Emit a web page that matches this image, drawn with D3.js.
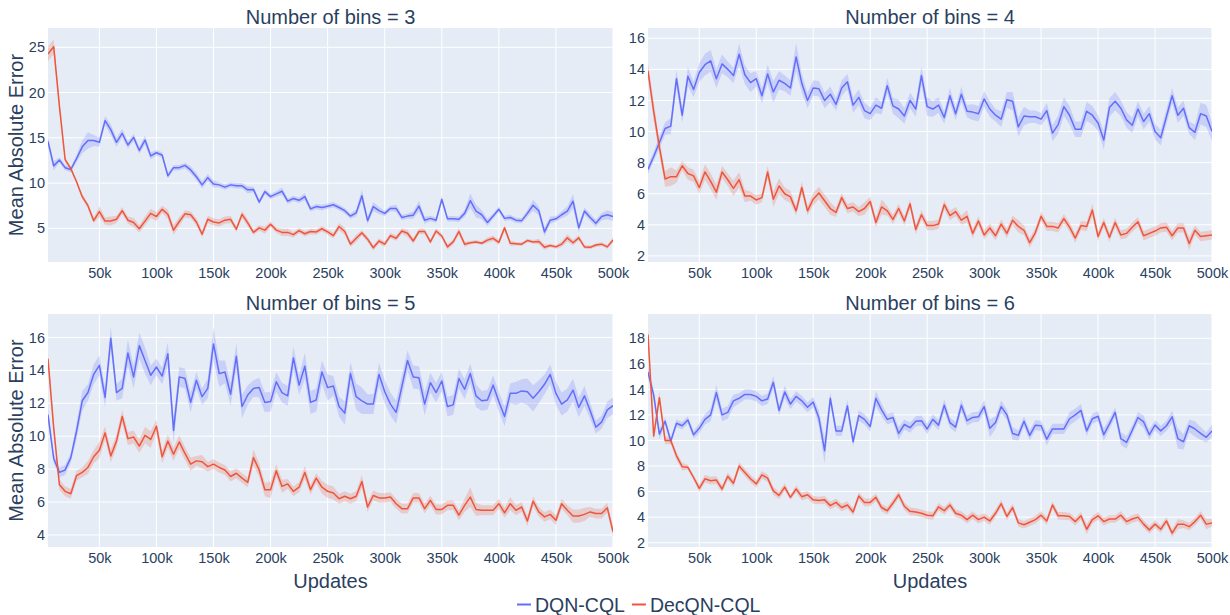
<!DOCTYPE html>
<html>
<head>
<meta charset="utf-8">
<script src="https://cdn.jsdelivr.net/npm/d3@7"></script>
<style>
  html, body { margin: 0; padding: 0; background: #ffffff; }
  svg { display: block; font-family: "Liberation Sans", Arial, sans-serif; }
</style>
</head>
<body>
<svg id="chart" width="1230" height="615"></svg>
<script>
// Training updates at which the error was measured (every 5k up to 500k)
const updates = d3.range(5000, 500001, 5000);
const xTicks = [50000, 100000, 150000, 200000, 250000, 300000, 350000, 400000, 450000, 500000];

const seriesNames = ["DQN-CQL", "DecQN-CQL"];
const binCounts = [3, 4, 5, 6];

// ---- Number of bins = 3 ----
const dqn3 = [14.6,11.9,12.55,11.7,11.5,12.7,14.0,14.7,14.7,14.5,
  16.9,15.9,14.5,15.5,14.2,15.05,13.6,14.75,13.0,13.35,
  13.1,10.8,11.7,11.7,11.95,11.45,10.7,9.8,10.6,9.9,
  9.8,9.55,9.8,9.7,9.7,9.25,9.3,7.9,9.05,8.5,
  8.8,9.1,8.0,8.3,8.1,8.5,7.15,7.4,7.3,7.45,
  7.6,7.3,6.95,6.35,6.7,8.6,5.85,7.4,6.95,6.65,
  7.2,7.2,6.2,6.35,6.45,7.45,5.9,6.1,5.9,8.2,
  6.05,6.05,6.0,6.65,8.05,6.9,6.5,5.65,6.35,7.1,
  6.1,6.2,5.9,5.85,6.65,7.55,6.95,4.6,5.9,6.05,
  6.5,6.9,8.0,5.05,6.9,6.2,5.55,6.3,6.5,6.3];
const dqn3Spread = [0.5,0.5,0.3,0.3,0.3,0.4,0.7,0.9,0.6,0.5,
  0.5,0.6,0.5,0.5,0.4,0.4,0.4,0.5,0.4,0.3,
  0.3,0.3,0.3,0.3,0.3,0.4,0.4,0.4,0.4,0.4,
  0.3,0.3,0.3,0.3,0.3,0.4,0.3,0.3,0.3,0.3,
  0.3,0.4,0.3,0.3,0.3,0.4,0.3,0.3,0.3,0.3,
  0.3,0.3,0.3,0.3,0.4,0.7,0.4,0.5,0.4,0.3,
  0.3,0.4,0.3,0.3,0.4,0.6,0.4,0.3,0.3,0.4,
  0.3,0.3,0.3,0.4,0.8,0.7,0.5,0.4,0.3,0.3,
  0.3,0.3,0.3,0.3,0.4,0.6,0.5,0.5,0.4,0.3,
  0.4,0.5,0.8,0.5,0.4,0.4,0.4,0.4,0.5,0.5];
const decqn3 = [24.26,25.07,18.5,12.6,11.6,10.15,8.5,7.5,5.85,6.85,
  5.8,5.8,6.0,6.95,5.9,5.65,4.95,5.8,6.65,6.3,
  7.1,6.55,4.8,5.75,6.6,6.5,5.7,4.35,6.0,5.7,
  5.6,5.9,6.0,4.9,6.55,5.6,4.55,5.05,4.8,5.45,
  4.8,4.55,4.55,4.3,4.75,4.4,4.65,4.6,4.95,4.6,
  4.2,5.2,4.65,3.25,3.9,4.5,3.8,2.85,3.6,3.25,
  4.2,3.9,4.7,4.45,3.6,4.65,4.65,3.5,4.7,4.15,
  2.95,3.5,4.65,3.25,3.4,3.5,3.35,3.7,3.9,3.45,
  5.05,3.35,3.3,3.25,3.65,3.5,3.55,2.9,3.1,2.95,
  3.25,3.95,3.4,3.95,2.95,2.9,3.15,3.25,2.95,3.7];
const decqn3Spread = [0.8,0.8,0.5,0.3,0.2,0.2,0.3,0.3,0.3,0.6,
  0.4,0.5,0.4,0.4,0.4,0.5,0.4,0.5,0.5,0.5,
  0.4,0.5,0.5,0.5,0.4,0.4,0.4,0.4,0.4,0.4,
  0.4,0.4,0.4,0.3,0.4,0.4,0.3,0.3,0.4,0.3,
  0.3,0.4,0.4,0.3,0.3,0.3,0.3,0.3,0.3,0.3,
  0.3,0.4,0.4,0.3,0.4,0.3,0.3,0.3,0.3,0.3,
  0.3,0.3,0.3,0.4,0.3,0.3,0.3,0.3,0.3,0.3,
  0.3,0.3,0.4,0.3,0.2,0.2,0.2,0.3,0.3,0.3,
  0.3,0.3,0.2,0.2,0.2,0.2,0.3,0.3,0.2,0.2,
  0.3,0.4,0.3,0.3,0.2,0.2,0.2,0.2,0.2,0.3];

// ---- Number of bins = 4 ----
const dqn4 = [7.57,8.4,9.3,10.2,10.35,13.4,11.05,13.55,12.7,13.8,
  14.3,14.55,13.4,14.35,14.0,13.6,14.97,13.65,13.15,13.4,
  12.3,13.7,12.55,13.3,13.1,12.8,14.8,13.1,12.0,12.8,
  12.75,12.0,12.4,11.75,12.8,13.2,11.7,12.2,11.35,11.15,
  11.7,11.5,12.95,11.65,11.45,11.0,12.0,11.45,13.6,11.6,
  11.45,11.7,10.9,12.3,11.15,12.4,11.3,11.25,11.15,12.1,
  11.45,11.05,10.8,12.05,11.95,10.3,11.0,10.95,10.95,10.8,
  11.35,9.9,10.45,11.6,11.05,10.15,10.15,11.3,11.05,10.55,
  9.45,11.55,11.95,11.5,10.75,10.4,11.45,10.65,11.15,10.0,
  9.6,10.95,12.3,11.05,11.5,10.25,9.95,11.15,11.0,10.0];
const dqn4Spread = [0.3,0.3,0.4,0.4,0.5,0.6,0.5,0.6,0.5,0.6,
  0.7,0.7,0.6,0.6,0.5,0.5,0.7,0.6,0.6,0.5,
  0.5,0.6,0.7,0.6,0.5,0.5,0.9,0.6,0.5,0.5,
  0.5,0.5,0.5,0.4,0.5,0.5,0.5,0.5,0.5,0.4,
  0.5,0.4,0.5,0.5,0.6,0.5,0.5,0.5,0.6,0.6,
  0.5,0.5,0.4,0.5,0.4,0.5,0.4,0.5,0.5,0.5,
  0.5,0.4,0.5,0.5,0.6,0.6,0.6,0.4,0.4,0.4,
  0.5,0.5,0.6,0.6,0.6,0.5,0.5,0.6,0.6,0.5,
  0.6,0.6,0.6,0.5,0.5,0.5,0.5,0.5,0.5,0.5,
  0.5,0.5,0.5,0.5,0.5,0.4,0.5,0.7,0.7,0.6];
const decqn4 = [13.9,11.3,9.0,6.95,7.1,7.1,7.8,7.3,7.15,6.4,
  7.4,6.8,6.1,7.4,6.9,6.35,6.9,5.85,5.85,5.6,
  5.75,7.4,5.65,6.5,6.0,5.8,4.9,6.4,4.9,5.65,
  6.05,5.55,5.05,4.8,5.75,5.05,5.15,4.85,5.05,5.5,
  4.15,5.15,4.9,4.35,5.05,4.25,5.35,3.7,4.65,3.95,
  3.95,4.05,5.3,4.6,4.85,4.3,4.55,3.45,4.25,3.35,
  3.8,3.3,4.05,3.45,4.3,3.9,3.65,2.85,3.5,4.55,
  3.9,3.9,3.8,4.4,3.85,3.15,3.95,3.9,4.95,3.25,
  4.15,3.2,4.15,3.35,3.45,3.85,4.2,3.3,3.45,3.6,
  3.8,3.85,3.3,3.8,3.8,2.8,3.65,3.25,3.3,3.35];
const decqn4Spread = [0.5,0.6,0.5,0.5,0.6,0.4,0.3,0.4,0.4,0.4,
  0.5,0.5,0.5,0.4,0.4,0.5,0.5,0.4,0.3,0.3,
  0.3,0.4,0.5,0.5,0.4,0.4,0.3,0.4,0.3,0.4,
  0.4,0.4,0.4,0.3,0.3,0.3,0.3,0.3,0.4,0.3,
  0.3,0.5,0.3,0.3,0.3,0.3,0.3,0.3,0.3,0.3,
  0.3,0.3,0.3,0.3,0.3,0.3,0.4,0.3,0.3,0.3,
  0.3,0.3,0.3,0.3,0.3,0.4,0.3,0.3,0.3,0.3,
  0.3,0.3,0.3,0.3,0.3,0.3,0.3,0.3,0.4,0.3,
  0.3,0.3,0.3,0.3,0.3,0.3,0.3,0.3,0.3,0.3,
  0.3,0.3,0.3,0.3,0.3,0.4,0.3,0.3,0.3,0.3];

// ---- Number of bins = 5 ----
const dqn5 = [11.3,8.65,7.8,7.95,8.7,10.3,12.15,12.65,13.75,14.3,
  12.35,15.95,12.65,12.9,15.05,13.6,15.5,14.6,13.7,14.2,
  13.65,15.0,10.35,13.6,13.5,12.05,13.4,12.4,12.9,15.6,
  13.8,13.9,12.55,14.85,11.8,12.5,12.9,12.95,12.05,12.1,
  13.3,12.65,12.45,14.75,13.1,14.25,12.05,12.2,13.9,12.95,
  13.05,11.8,11.4,13.8,12.4,12.15,11.95,11.95,13.75,12.7,
  11.95,11.45,13.0,14.6,13.6,13.55,11.95,13.25,12.65,13.35,
  11.8,11.9,13.5,12.85,13.8,12.45,12.15,12.2,13.1,12.1,
  11.2,12.6,12.6,12.75,12.7,12.3,12.7,13.15,13.75,12.6,
  11.95,12.2,12.8,11.75,12.45,11.55,10.55,10.85,11.6,11.85];
const dqn5Spread = [0.4,0.3,0.3,0.3,0.3,0.5,0.6,0.5,0.6,0.6,
  0.6,0.7,0.5,0.6,0.8,0.7,0.8,0.8,0.6,0.5,
  0.5,0.7,0.8,0.6,0.6,0.6,0.5,0.5,0.6,1.0,
  0.8,0.7,0.7,0.8,0.7,0.6,0.5,0.6,0.6,0.6,
  0.6,0.6,0.6,0.7,0.6,0.8,0.7,0.7,0.7,0.8,
  0.6,0.6,0.7,0.7,0.8,0.8,0.6,0.6,0.7,0.7,
  0.7,0.7,0.7,0.6,0.7,0.7,0.7,0.6,0.6,0.6,
  0.6,0.6,0.6,0.6,0.6,0.7,0.6,0.6,0.6,0.6,
  0.6,0.6,0.7,0.7,0.8,0.8,0.7,0.6,0.6,0.7,
  0.7,0.7,0.7,0.6,0.6,0.5,0.4,0.4,0.5,0.5];
const decqn5 = [14.7,10.5,7.05,6.65,6.5,7.6,7.8,8.1,8.75,9.15,
  10.2,8.8,9.7,11.2,9.85,9.95,9.4,10.05,9.8,10.6,
  8.75,9.7,8.9,9.65,8.95,8.3,8.5,8.45,8.15,8.3,
  8.1,7.95,7.55,7.75,7.45,7.2,8.7,7.95,6.75,6.75,
  7.9,6.95,7.1,6.65,6.9,7.8,6.75,7.45,6.9,6.65,
  6.55,6.2,6.35,6.2,6.35,7.25,5.7,6.4,6.25,6.25,
  6.3,5.9,5.6,5.6,6.25,6.25,5.6,6.1,5.55,5.55,
  5.8,5.8,5.2,5.8,6.3,5.55,5.5,5.5,5.5,5.9,
  5.35,5.9,5.5,5.7,4.85,6.05,5.4,5.1,5.25,4.9,
  5.9,5.5,5.15,5.15,5.25,5.4,5.3,5.3,5.65,4.2];
const decqn5Spread = [0.3,0.4,0.3,0.3,0.3,0.3,0.3,0.4,0.4,0.5,
  0.4,0.4,0.4,0.4,0.4,0.4,0.4,0.5,0.5,0.4,
  0.4,0.4,0.4,0.4,0.4,0.4,0.3,0.4,0.3,0.3,
  0.3,0.3,0.3,0.3,0.3,0.3,0.5,0.4,0.4,0.5,
  0.4,0.4,0.3,0.3,0.3,0.4,0.3,0.3,0.4,0.4,
  0.4,0.3,0.3,0.3,0.3,0.4,0.3,0.3,0.3,0.3,
  0.3,0.3,0.3,0.3,0.3,0.3,0.3,0.3,0.3,0.3,
  0.3,0.3,0.3,0.4,0.6,0.4,0.3,0.3,0.3,0.3,
  0.3,0.4,0.3,0.3,0.3,0.3,0.3,0.3,0.3,0.3,
  0.3,0.3,0.4,0.4,0.4,0.3,0.3,0.3,0.3,0.3];

// ---- Number of bins = 6 ----
const dqn6 = [15.35,13.55,10.5,11.5,9.95,11.35,11.15,11.6,10.45,10.95,
  11.65,12.0,13.75,12.0,12.2,13.1,13.3,13.6,13.6,13.45,
  13.1,13.25,14.55,12.35,13.8,12.85,13.45,13.1,12.6,13.0,
  11.75,9.2,13.3,10.75,10.75,12.7,9.9,11.95,11.65,11.1,
  13.3,12.4,11.65,11.8,10.55,11.25,11.0,11.5,11.55,10.9,
  11.65,11.2,12.75,11.4,11.05,12.75,11.55,11.8,11.85,12.65,
  10.95,11.4,12.65,12.0,10.55,10.4,11.5,10.4,11.2,11.15,
  10.1,10.9,10.9,10.9,11.7,12.0,12.35,10.75,11.7,11.9,
  10.45,11.3,12.2,10.15,9.85,10.8,11.8,11.45,10.45,11.2,
  10.75,11.15,11.85,10.15,9.9,11.15,10.9,10.55,10.25,10.75];
const dqn6Spread = [0.4,0.4,0.4,0.3,0.3,0.3,0.3,0.3,0.3,0.4,
  0.4,0.5,0.6,0.5,0.5,0.5,0.4,0.4,0.4,0.4,
  0.4,0.4,0.5,0.4,0.5,0.4,0.4,0.4,0.4,0.4,
  0.6,1.0,0.5,0.4,0.4,0.5,0.4,0.4,0.4,0.4,
  0.6,0.5,0.4,0.4,0.5,0.4,0.4,0.4,0.4,0.4,
  0.4,0.4,0.5,0.4,0.4,0.5,0.4,0.4,0.4,0.5,
  0.7,0.5,0.5,0.4,0.5,0.4,0.4,0.4,0.4,0.4,
  0.5,0.4,0.4,0.4,0.5,0.5,0.5,0.4,0.4,0.4,
  0.5,0.4,0.4,0.5,0.5,0.4,0.4,0.5,0.4,0.4,
  0.4,0.4,0.5,0.8,0.6,0.5,0.6,0.5,0.4,0.5];
const decqn6 = [18.3,10.35,13.35,10.0,10.0,8.8,7.95,7.9,7.1,6.25,
  7.0,6.85,6.9,6.2,7.2,6.65,8.0,7.5,7.0,6.6,
  7.3,7.05,6.05,5.7,6.35,5.55,6.2,5.6,5.75,5.35,
  5.3,5.35,4.9,5.15,4.75,4.95,4.4,5.65,5.15,5.15,
  5.55,4.75,4.5,5.1,5.75,4.85,4.45,4.4,4.3,4.15,
  4.1,4.8,4.5,4.95,4.3,4.15,3.8,4.15,3.8,4.0,
  3.7,4.3,5.05,4.05,4.75,3.55,3.4,3.6,3.8,4.15,
  3.7,4.95,4.1,4.1,4.05,3.65,4.1,3.05,3.8,4.1,
  3.65,3.85,3.85,4.15,3.65,3.85,4.0,3.45,3.0,3.45,
  3.05,3.7,2.75,3.45,3.45,3.25,3.65,4.15,3.45,3.55];
const decqn6Spread = [0.4,0.4,0.5,0.3,0.3,0.3,0.3,0.2,0.2,0.3,
  0.3,0.3,0.3,0.3,0.3,0.3,0.3,0.3,0.3,0.3,
  0.3,0.3,0.3,0.3,0.3,0.2,0.3,0.3,0.3,0.3,
  0.3,0.3,0.3,0.3,0.3,0.3,0.3,0.3,0.3,0.3,
  0.3,0.3,0.3,0.3,0.3,0.3,0.3,0.3,0.3,0.3,
  0.3,0.3,0.3,0.3,0.3,0.3,0.3,0.3,0.3,0.3,
  0.3,0.3,0.3,0.3,0.3,0.3,0.3,0.3,0.3,0.3,
  0.3,0.3,0.3,0.3,0.3,0.3,0.3,0.4,0.3,0.3,
  0.3,0.3,0.3,0.3,0.3,0.3,0.3,0.3,0.3,0.3,
  0.3,0.3,0.3,0.4,0.3,0.3,0.3,0.3,0.4,0.3];

const yTicks3 = [5, 10, 15, 20, 25];
const yTicks4 = [2, 4, 6, 8, 10, 12, 14, 16];
const yTicks5 = [4, 6, 8, 10, 12, 14, 16];
const yTicks6 = [2, 4, 6, 8, 10, 12, 14, 16, 18];

// ---- Layout ----
const colors = { dqn: "#636efa", decqn: "#ef553b" };
const bands = { dqn: "rgba(99,110,250,0.22)", decqn: "rgba(239,85,59,0.22)" };
const textColor = "#2a3f5f";
const plotBg = "#e5ecf6";

const panels = [
  { bins: binCounts[0], x0: 48,  x1: 613,  y0: 28,  y1: 262, yDomain: [1.28, 27.13], yTicks: yTicks3,
    dqn: dqn3, dqnSpread: dqn3Spread, decqn: decqn3, decqnSpread: decqn3Spread, yTitle: true, xTitle: false },
  { bins: binCounts[1], x0: 648, x1: 1212, y0: 28,  y1: 262, yDomain: [1.61, 16.66], yTicks: yTicks4,
    dqn: dqn4, dqnSpread: dqn4Spread, decqn: decqn4, decqnSpread: decqn4Spread, yTitle: false, xTitle: false },
  { bins: binCounts[2], x0: 48,  x1: 613,  y0: 314, y1: 547, yDomain: [3.27, 17.42], yTicks: yTicks5,
    dqn: dqn5, dqnSpread: dqn5Spread, decqn: decqn5, decqnSpread: decqn5Spread, yTitle: true, xTitle: true },
  { bins: binCounts[3], x0: 648, x1: 1212, y0: 314, y1: 547, yDomain: [1.66, 19.9], yTicks: yTicks6,
    dqn: dqn6, dqnSpread: dqn6Spread, decqn: decqn6, decqnSpread: decqn6Spread, yTitle: false, xTitle: true }
];

const svg = d3.select("#chart");
const fmtK = d => (d / 1000) + "k";

panels.forEach((p, i) => {
  const x = d3.scaleLinear().domain([updates[0], updates[updates.length - 1]]).range([p.x0, p.x1]);
  const y = d3.scaleLinear().domain(p.yDomain).range([p.y1, p.y0]);
  const g = svg.append("g");

  g.append("rect").attr("x", p.x0).attr("y", p.y0)
    .attr("width", p.x1 - p.x0).attr("height", p.y1 - p.y0).attr("fill", plotBg);

  // grid
  const grid = g.append("g").attr("stroke", "#ffffff").attr("stroke-width", 1);
  xTicks.forEach(t => grid.append("line")
    .attr("x1", x(t)).attr("x2", x(t)).attr("y1", p.y0).attr("y2", p.y1));
  p.yTicks.forEach(t => grid.append("line")
    .attr("x1", p.x0).attr("x2", p.x1).attr("y1", y(t)).attr("y2", y(t)));

  // axes (labels only, no axis lines)
  const xAxis = g.append("g").attr("transform", `translate(0,${p.y1})`)
    .call(d3.axisBottom(x).tickValues(xTicks).tickFormat(fmtK).tickSize(0).tickPadding(6));
  xAxis.select(".domain").remove();
  xAxis.selectAll("text").attr("fill", textColor).style("font-size", "14.5px")
    .style("font-family", '"Liberation Sans", Arial, sans-serif');

  const yAxis = g.append("g").attr("transform", `translate(${p.x0},0)`)
    .call(d3.axisLeft(y).tickValues(p.yTicks).tickSize(0).tickPadding(3));
  yAxis.select(".domain").remove();
  yAxis.selectAll("text").attr("fill", textColor).style("font-size", "14.5px")
    .style("font-family", '"Liberation Sans", Arial, sans-serif');

  const clipId = "clip" + i;
  svg.append("clipPath").attr("id", clipId).append("rect")
    .attr("x", p.x0).attr("y", p.y0).attr("width", p.x1 - p.x0).attr("height", p.y1 - p.y0);
  const marks = g.append("g").attr("clip-path", `url(#${clipId})`);

  [["dqn", p.dqn, p.dqnSpread], ["decqn", p.decqn, p.decqnSpread]].forEach(([key, mean, spread]) => {
    const rows = updates.map((u, j) => ({ u, m: mean[j], s: spread[j] }));
    const area = d3.area().x(d => x(d.u)).y0(d => y(d.m - d.s)).y1(d => y(d.m + d.s));
    const line = d3.line().x(d => x(d.u)).y(d => y(d.m));
    marks.append("path").datum(rows).attr("d", area).attr("fill", bands[key]);
    marks.append("path").datum(rows).attr("d", line).attr("fill", "none")
      .attr("stroke", colors[key]).attr("stroke-width", 1.5).attr("stroke-linejoin", "round");
  });

  // panel title
  g.append("text").attr("x", (p.x0 + p.x1) / 2).attr("y", p.y0 - 4)
    .attr("text-anchor", "middle").attr("fill", textColor).style("font-size", "20px")
    .text(`Number of bins = ${p.bins}`);

  if (p.yTitle) {
    g.append("text")
      .attr("transform", `translate(23,${(p.y0 + p.y1) / 2}) rotate(-90)`)
      .attr("text-anchor", "middle").attr("fill", textColor).style("font-size", "20px")
      .text("Mean Absolute Error");
  }
  if (p.xTitle) {
    g.append("text").attr("x", (p.x0 + p.x1) / 2).attr("y", 588)
      .attr("text-anchor", "middle").attr("fill", textColor).style("font-size", "20px")
      .text("Updates");
  }
});

// legend
const legend = svg.append("g");
let lx = 517;
[["dqn", seriesNames[0]], ["decqn", seriesNames[1]]].forEach(([key, name]) => {
  legend.append("line").attr("x1", lx).attr("x2", lx + 14).attr("y1", 604.5).attr("y2", 604.5)
    .attr("stroke", colors[key]).attr("stroke-width", 2);
  const t = legend.append("text").attr("x", lx + 18).attr("y", 611.5)
    .attr("fill", textColor).style("font-size", "19.5px").text(name);
  lx += 18 + t.node().getComputedTextLength() + 7;
});
</script>
</body>
</html>
